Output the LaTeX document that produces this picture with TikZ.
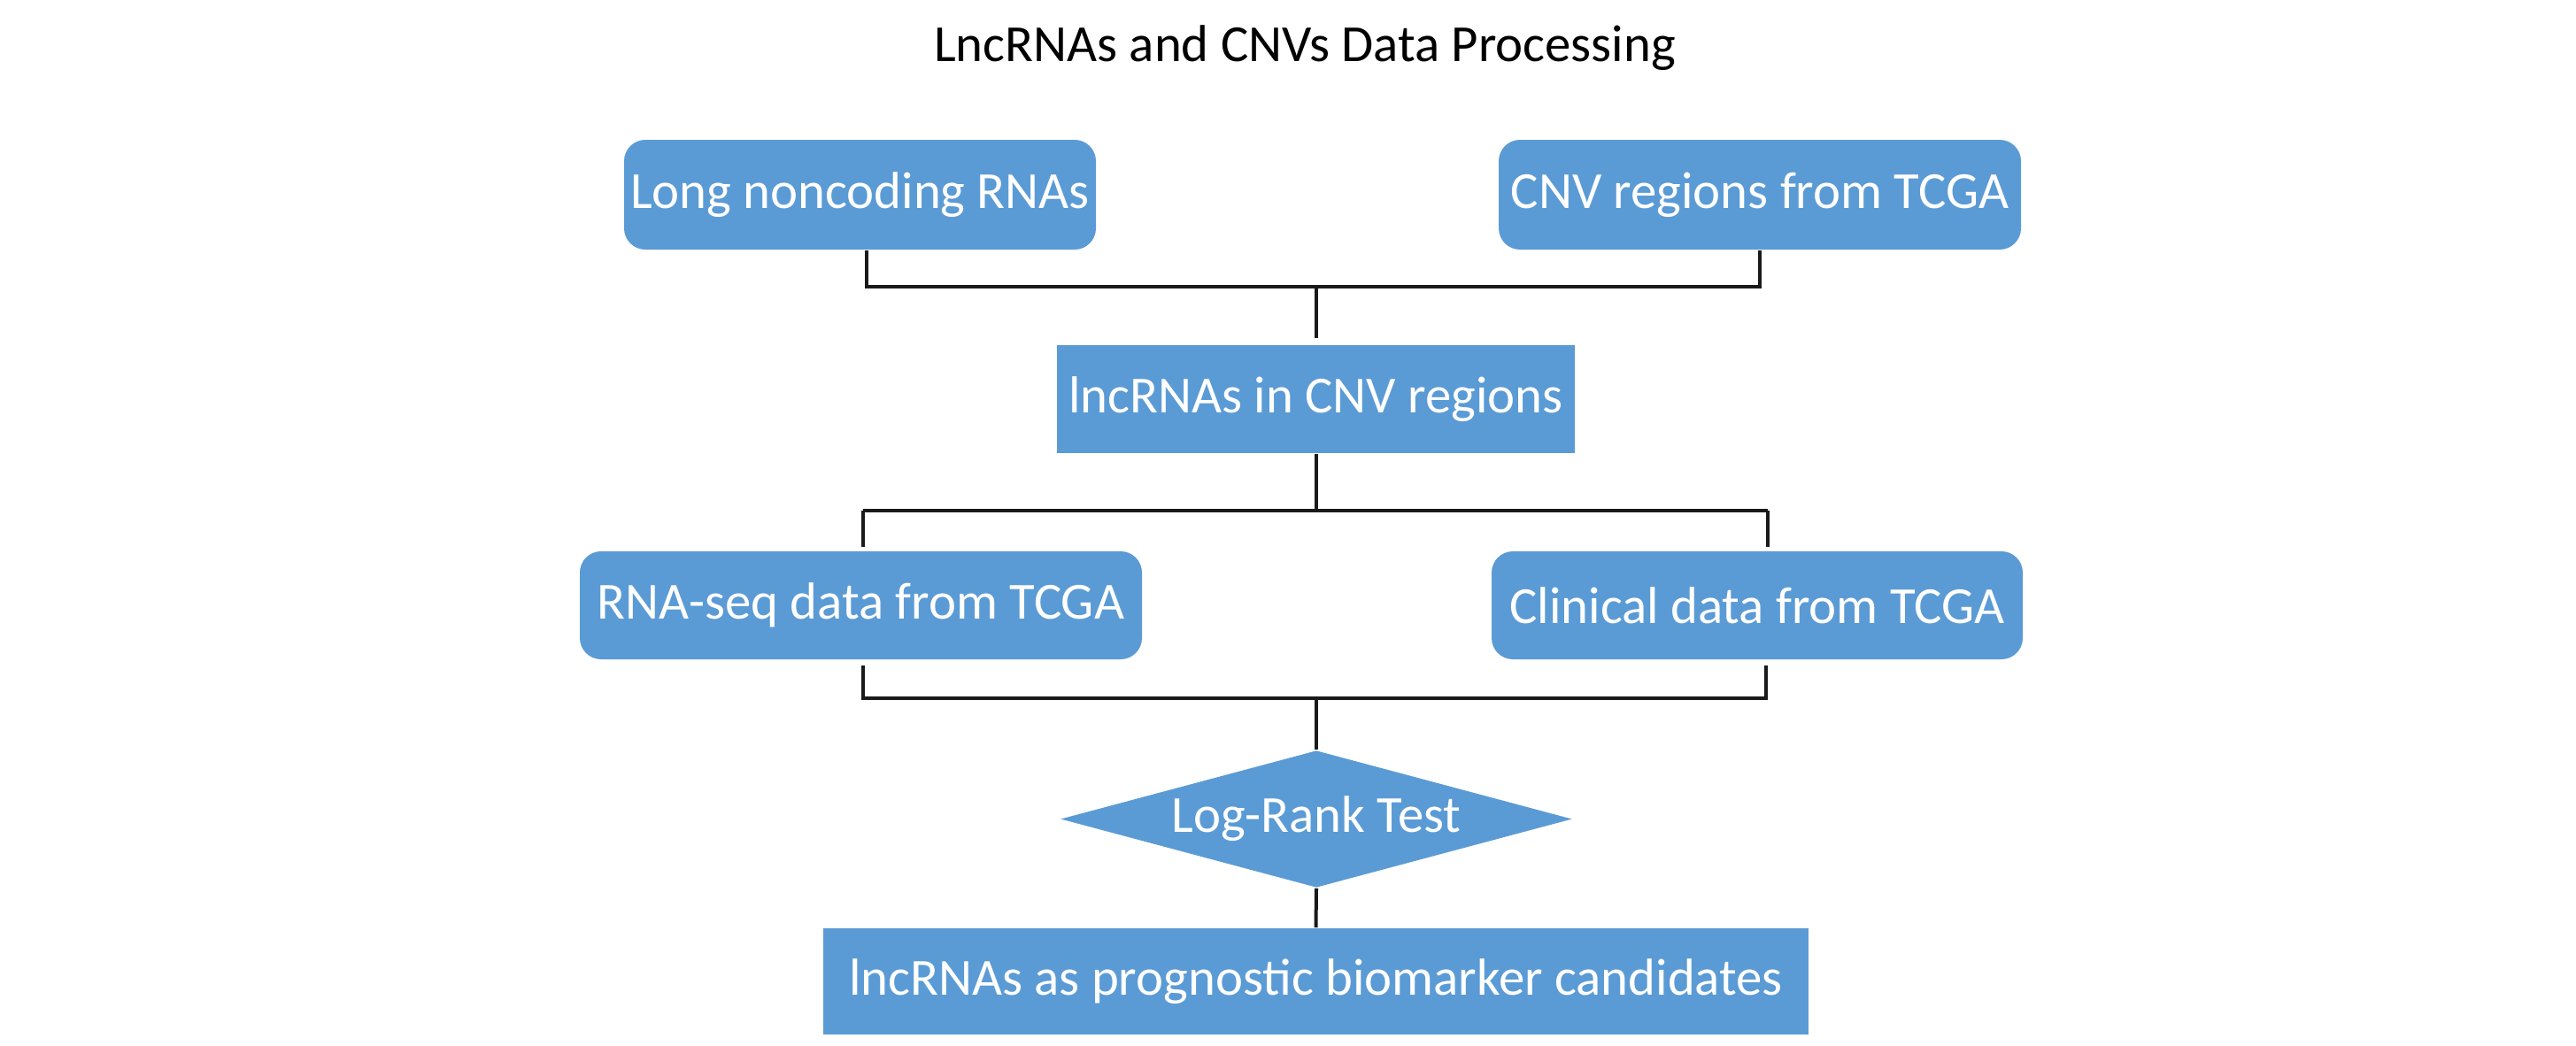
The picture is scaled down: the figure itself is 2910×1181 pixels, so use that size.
\documentclass[tikz,border=0pt]{standalone}
\usepackage{fontspec}
\setmainfont{Carlito}
\usetikzlibrary{shapes.geometric}
\definecolor{boxblue}{HTML}{5B9BD5}
\definecolor{linecol}{HTML}{1A1A1A}
\begin{document}
\begin{tikzpicture}[x=0.25pt,y=-0.25pt,
  basebox/.style={fill=boxblue,text=white,inner sep=0pt,font=\fontsize{14.7}{17}\selectfont},
  rbox/.style={basebox,rectangle,rounded corners=6pt},
  sbox/.style={basebox,rectangle},
  dbox/.style={basebox,diamond,aspect=3.75},
  link/.style={draw=linecol,line width=1pt}]
\useasboundingbox (0,0) rectangle (2910,1181);
\node[font=\fontsize{14.7}{17}\selectfont] (title) at (1474,54) {LncRNAs and CNVs Data Processing};
\node[rbox,minimum width=133.25pt,minimum height=31pt] (b1) at (971.5,220) {Long noncoding RNAs};
\node[rbox,minimum width=147.5pt,minimum height=31pt] (b2) at (1988,220) {CNV regions from TCGA};
\node[sbox,minimum width=146.25pt,minimum height=30.5pt] (b3) at (1486.5,451) {lncRNAs in CNV regions};
\node[rbox,minimum width=158.75pt,minimum height=30.5pt] (b4) at (972.5,684) {RNA-seq data from TCGA};
\node[rbox,minimum width=150pt,minimum height=30.5pt] (b5) at (1985,684) {Clinical data from TCGA};
\node[dbox,minimum width=144.5pt,minimum height=38.75pt] (d) at (1487,925.5) {Log-Rank Test};
\node[sbox,minimum width=278.25pt,minimum height=30pt] (b6) at (1486.5,1109) {lncRNAs as prognostic biomarker candidates};
% first junction
\coordinate (j1) at (1487,324);
\draw[link] ([xshift=1.75pt]b1.south) -- ([xshift=1.75pt]b1.south |- j1) -- (b2.south |- j1) -- (b2.south);
\draw[link,shorten >=1.75pt] (b3.north |- j1) -- (b3.north);
% second junction
\coordinate (j2) at (1487,577);
\draw[link] (b3.south) -- (b3.south |- j2);
\draw[link] ([xshift=0.5pt]b4.north |- j2) -- ([xshift=3pt]b5.north |- j2);
\draw[link,shorten >=1pt] ([xshift=0.5pt]b4.north |- j2) -- ([xshift=0.5pt]b4.north);
\draw[link,shorten >=1pt] ([xshift=3pt]b5.north |- j2) -- ([xshift=3pt]b5.north);
% third junction
\coordinate (j3) at (1487,789);
\draw[link,shorten <=1.5pt,shorten >=1.5pt] ([xshift=0.5pt]b4.south) -- ([xshift=0.5pt]b4.south |- j3) -- ([xshift=2.5pt]b5.south |- j3) -- ([xshift=2.5pt]b5.south);
\draw[link] (d.north |- j3) -- (d.north);
\draw[link] (d.south) -- (b6.north);
\end{tikzpicture}
\end{document}
